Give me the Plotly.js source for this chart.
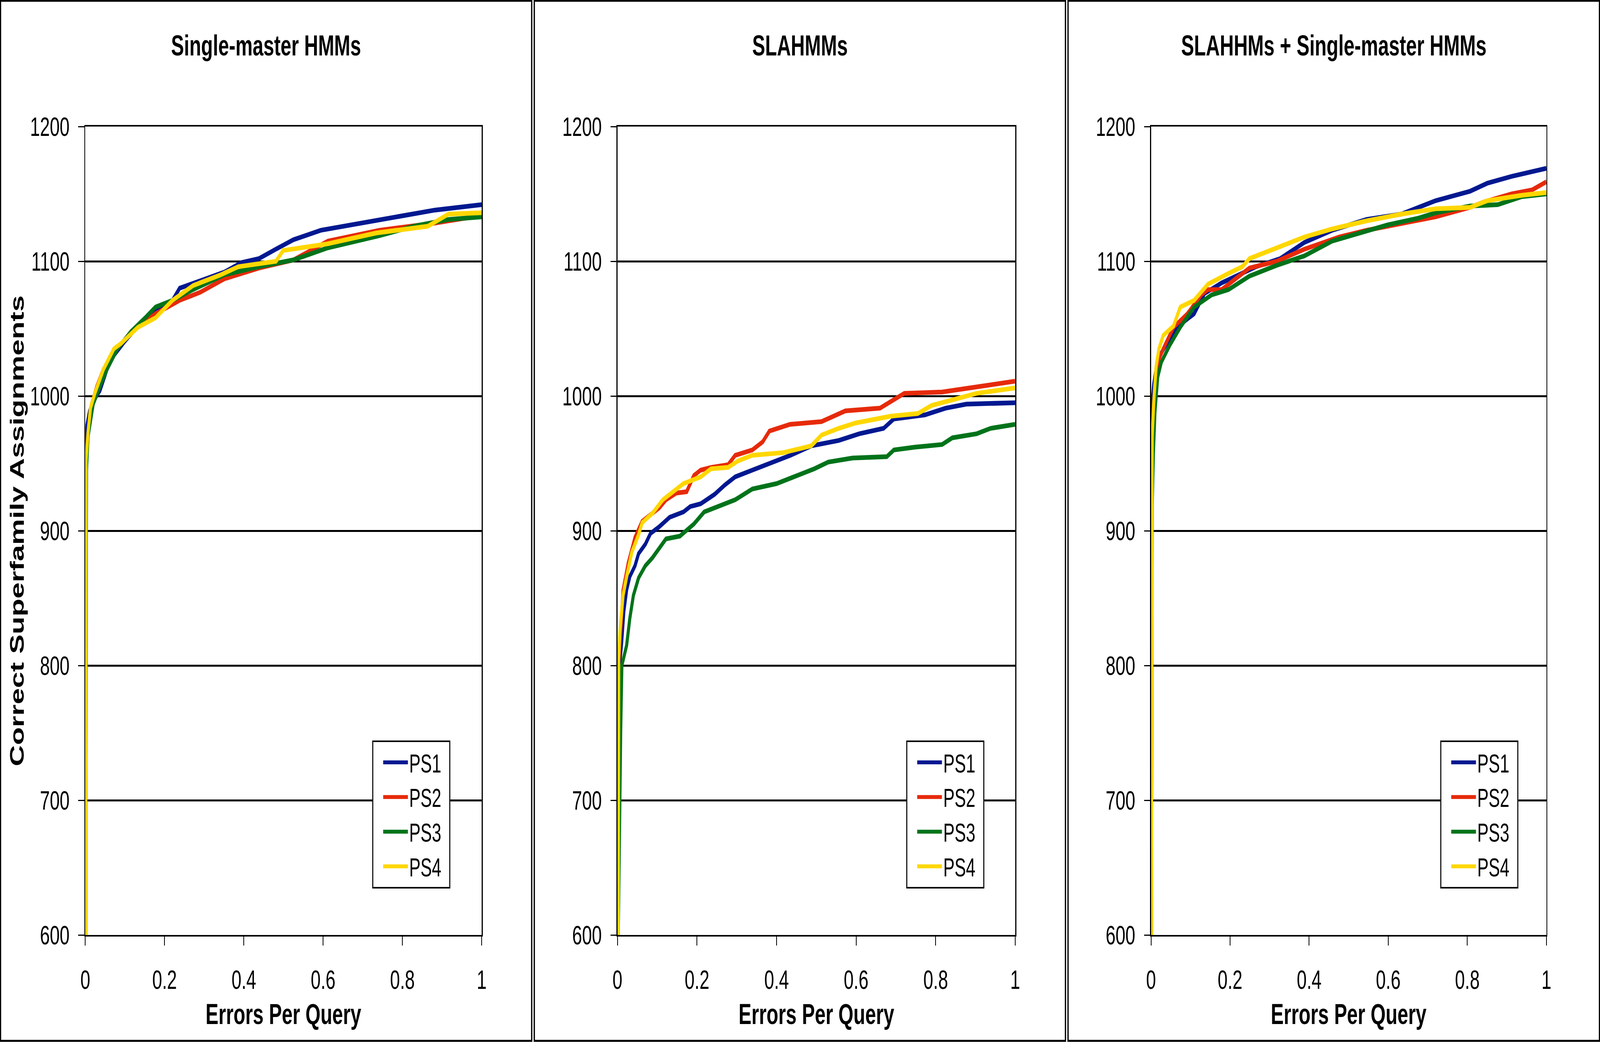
<!DOCTYPE html>
<html>
<head>
<meta charset="utf-8">
<script src="https://cdn.plot.ly/plotly-3.0.1.min.js"></script>
<style>
  html, body { margin: 0; padding: 0; background: #fff; overflow: hidden; }
  #plot { width: 6211px; height: 2668px; transform-origin: 0 0; }
</style>
</head>
<body>
<div id="plot"></div>
<script>
const panelTitles = ["Single-master HMMs", "SLAHMMs", "SLAHHMs + Single-master HMMs"];
const seriesNames = ["PS1", "PS2", "PS3", "PS4"];
const xTicks = [0, 0.2, 0.4, 0.6, 0.8, 1];
const yTicks = [600, 700, 800, 900, 1000, 1100, 1200];

// Single-master HMMs
const single_ps1_x = [0.001, 0.001, 0.004, 0.011, 0.020, 0.037, 0.055, 0.072, 0.098, 0.133, 0.177, 0.220, 0.238, 0.307, 0.351, 0.394, 0.438, 0.481, 0.525, 0.594, 0.655, 0.742, 0.882, 1.0];
const single_ps1_y = [600, 963, 978, 989, 996, 1004, 1020, 1030, 1040, 1052, 1064, 1071, 1080, 1087, 1092, 1099, 1102, 1109, 1116, 1123, 1126, 1131, 1138, 1142];
const single_ps2_x = [0.001, 0.003, 0.007, 0.016, 0.029, 0.046, 0.064, 0.081, 0.116, 0.177, 0.238, 0.290, 0.351, 0.438, 0.525, 0.551, 0.612, 0.742, 0.873, 1.0];
const single_ps2_y = [600, 952, 970, 994, 1007, 1020, 1027, 1035, 1048, 1061, 1071, 1077, 1087, 1095, 1101, 1105, 1115, 1123, 1128, 1134];
const single_ps3_x = [0.001, 0.003, 0.007, 0.020, 0.037, 0.055, 0.081, 0.116, 0.151, 0.177, 0.220, 0.272, 0.351, 0.438, 0.525, 0.612, 0.742, 0.829, 0.916, 1.0];
const single_ps3_y = [600, 945, 970, 994, 1007, 1020, 1035, 1048, 1058, 1066, 1071, 1079, 1090, 1096, 1101, 1110, 1119, 1126, 1131, 1133];
const single_ps4_x = [0.001, 0.002, 0.007, 0.013, 0.024, 0.046, 0.072, 0.090, 0.133, 0.177, 0.220, 0.272, 0.342, 0.386, 0.481, 0.499, 0.612, 0.734, 0.864, 0.916, 1.0];
const single_ps4_y = [600, 952, 973, 991, 1002, 1020, 1035, 1039, 1051, 1058, 1071, 1082, 1090, 1096, 1100, 1108, 1113, 1121, 1126, 1135, 1136];

// SLAHMMs
const sla_ps1_x = [0.002, 0.005, 0.010, 0.016, 0.023, 0.031, 0.044, 0.053, 0.070, 0.083, 0.105, 0.131, 0.166, 0.183, 0.209, 0.244, 0.270, 0.296, 0.339, 0.400, 0.435, 0.487, 0.556, 0.608, 0.669, 0.695, 0.773, 0.825, 0.877, 1.0];
const sla_ps1_y = [600, 800, 815, 840, 856, 866, 874, 883, 890, 898, 903, 910, 914, 918, 920, 927, 934, 940, 945, 952, 956, 963, 967, 972, 976, 983, 986, 991, 994, 995];
const sla_ps2_x = [0.002, 0.003, 0.008, 0.014, 0.027, 0.044, 0.062, 0.079, 0.105, 0.122, 0.148, 0.174, 0.192, 0.209, 0.235, 0.278, 0.296, 0.339, 0.365, 0.382, 0.434, 0.513, 0.573, 0.660, 0.695, 0.721, 0.816, 0.946, 1.0];
const sla_ps2_y = [600, 801, 825, 856, 876, 895, 907, 911, 917, 923, 928, 929, 941, 945, 947, 949, 956, 960, 966, 974, 979, 981, 989, 991, 997, 1002, 1003, 1009, 1011];
const sla_ps3_x = [0.002, 0.005, 0.008, 0.011, 0.023, 0.031, 0.040, 0.053, 0.070, 0.088, 0.109, 0.122, 0.157, 0.174, 0.192, 0.218, 0.261, 0.296, 0.339, 0.400, 0.452, 0.495, 0.530, 0.591, 0.677, 0.695, 0.747, 0.816, 0.842, 0.903, 0.938, 1.0];
const sla_ps3_y = [600, 700, 750, 800, 815, 835, 852, 865, 874, 880, 888, 894, 896, 900, 905, 914, 919, 923, 931, 935, 941, 946, 951, 954, 955, 960, 962, 964, 969, 972, 976, 979];
const sla_ps4_x = [0.002, 0.003, 0.006, 0.014, 0.023, 0.036, 0.053, 0.062, 0.088, 0.114, 0.140, 0.166, 0.209, 0.235, 0.278, 0.304, 0.339, 0.417, 0.487, 0.513, 0.556, 0.599, 0.686, 0.755, 0.790, 0.842, 0.903, 1.0];
const sla_ps4_y = [600, 805, 825, 852, 866, 884, 897, 906, 913, 923, 929, 935, 940, 946, 947, 952, 956, 958, 963, 971, 976, 980, 985, 987, 993, 997, 1002, 1006];

// SLAHHMs + Single-master HMMs
const comb_ps1_x = [0.001, 0.002, 0.003, 0.007, 0.013, 0.022, 0.039, 0.065, 0.109, 0.135, 0.179, 0.214, 0.266, 0.327, 0.388, 0.458, 0.545, 0.633, 0.676, 0.720, 0.807, 0.851, 0.912, 0.964, 1.0];
const comb_ps1_y = [600, 970, 996, 1009, 1020, 1030, 1038, 1051, 1061, 1076, 1084, 1089, 1096, 1102, 1114, 1123, 1131, 1135, 1140, 1145, 1152, 1158, 1163, 1167, 1169];
const comb_ps2_x = [0.001, 0.003, 0.006, 0.010, 0.017, 0.031, 0.057, 0.092, 0.127, 0.144, 0.179, 0.249, 0.318, 0.388, 0.476, 0.545, 0.633, 0.720, 0.807, 0.842, 0.912, 0.964, 1.0];
const comb_ps2_y = [600, 957, 991, 1009, 1025, 1035, 1051, 1061, 1075, 1079, 1079, 1095, 1100, 1109, 1118, 1123, 1128, 1133, 1140, 1144, 1150, 1153, 1159];
const comb_ps3_x = [0.001, 0.003, 0.006, 0.010, 0.017, 0.026, 0.048, 0.074, 0.109, 0.153, 0.196, 0.249, 0.318, 0.388, 0.458, 0.545, 0.598, 0.676, 0.720, 0.807, 0.877, 0.938, 1.0];
const comb_ps3_y = [600, 918, 957, 988, 1014, 1025, 1038, 1051, 1066, 1075, 1079, 1089, 1097, 1104, 1115, 1122, 1127, 1132, 1136, 1141, 1142, 1148, 1150];
const comb_ps4_x = [0.001, 0.003, 0.007, 0.013, 0.020, 0.031, 0.057, 0.074, 0.109, 0.144, 0.196, 0.231, 0.249, 0.327, 0.388, 0.458, 0.545, 0.633, 0.720, 0.807, 0.851, 0.938, 1.0];
const comb_ps4_y = [600, 970, 996, 1022, 1035, 1045, 1052, 1066, 1071, 1083, 1091, 1096, 1102, 1111, 1118, 1124, 1130, 1135, 1139, 1140, 1145, 1149, 1151];

const panelX = [
  [single_ps1_x, single_ps2_x, single_ps3_x, single_ps4_x],
  [sla_ps1_x, sla_ps2_x, sla_ps3_x, sla_ps4_x],
  [comb_ps1_x, comb_ps2_x, comb_ps3_x, comb_ps4_x],
];
const panelY = [
  [single_ps1_y, single_ps2_y, single_ps3_y, single_ps4_y],
  [sla_ps1_y, sla_ps2_y, sla_ps3_y, sla_ps4_y],
  [comb_ps1_y, comb_ps2_y, comb_ps3_y, comb_ps4_y],
];

// laid out in the reference's own 6211 x 2668 pixels; the window may be
// narrower (browser caps width), so the whole figure is fitted to it below
const W = 6211, H = 2668;
const FONT = "Liberation Sans, Arial, Helvetica, sans-serif";
const colors = ["#001890", "#E62A0A", "#00731A", "#FFD700"];

const plotLeft = [331, 2397, 4468];
const plotRight = [1870, 3941, 6003];
const plotTop = 324, plotBottom = 2394;
const boxLeft = [2, 2074, 4146];
const boxRight = [2064, 4136, 6209];
const legendLeft = [1447, 3520, 5593];
const legendWidth = 299;
const legendTop = 1898, legendBottom = 2273;

const px = (v) => v / W;
const py = (v) => 1 - v / H;

const traces = [];
panelX.forEach((xs, p) => {
  xs.forEach((x, s) => {
    traces.push({
      x: x,
      y: panelY[p][s],
      type: "scatter",
      mode: "lines",
      name: seriesNames[s],
      xaxis: p ? "x" + (p + 1) : "x",
      yaxis: p ? "y" + (p + 1) : "y",
      legend: p ? "legend" + (p + 1) : "legend",
      line: { color: colors[s], width: 12 },
      hoverinfo: "skip",
    });
  });
});

const layout = {
  width: W,
  height: H,
  margin: { l: 0, r: 0, t: 0, b: 0 },
  paper_bgcolor: "white",
  plot_bgcolor: "white",
  font: { family: FONT, color: "black" },
  shapes: [],
  annotations: [],
};

for (let p = 0; p < 3; p++) {
  const sfx = p ? String(p + 1) : "";
  layout["xaxis" + sfx] = {
    domain: [px(plotLeft[p]), px(plotRight[p])],
    anchor: "y" + sfx,
    range: [0, 1],
    tickvals: xTicks,
    showgrid: false,
    zeroline: false,
    showline: true,
    mirror: true,
    linecolor: "black",
    linewidth: 4,
    ticks: "outside",
    ticklen: 23,
    tickwidth: 3,
    tickcolor: "black",
    ticklabelstandoff: 28,
    tickfont: { family: FONT, size: 69, color: "black" },
  };
  layout["yaxis" + sfx] = {
    domain: [py(plotBottom), py(plotTop)],
    anchor: "x" + sfx,
    range: [600, 1200],
    tickvals: yTicks,
    showgrid: true,
    gridcolor: "black",
    gridwidth: 5,
    zeroline: false,
    showline: true,
    mirror: true,
    linecolor: "black",
    linewidth: 4,
    ticks: "outside",
    ticklen: 23,
    tickwidth: 3,
    tickcolor: "black",
    ticklabelstandoff: 20,
    tickfont: { family: FONT, size: 69, color: "black" },
  };
  // legend frame (wider padding than plotly's own box)
  layout.shapes.push({
    type: "rect",
    xref: "paper",
    yref: "paper",
    x0: px(legendLeft[p]),
    x1: px(legendLeft[p] + legendWidth),
    y0: py(legendBottom),
    y1: py(legendTop),
    fillcolor: "white",
    line: { color: "black", width: 4 },
    layer: "above",
  });
  layout[p ? "legend" + (p + 1) : "legend"] = {
    x: px(legendLeft[p] + legendWidth / 2 + 4),
    y: py((legendTop + legendBottom) / 2),
    xanchor: "center",
    yanchor: "middle",
    bgcolor: "rgba(0,0,0,0)",
    borderwidth: 0,
    itemwidth: 96,
    font: { family: FONT, size: 66, color: "black" },
  };
  layout.shapes.push({
    type: "rect",
    xref: "paper",
    yref: "paper",
    x0: px(boxLeft[p]),
    x1: px(boxRight[p]),
    y0: py(2665),
    y1: py(2),
    line: { color: "black", width: 5 },
    layer: "below",
  });
  layout.annotations.push({
    text: "<b>" + panelTitles[p] + "</b>",
    xref: "paper",
    yref: "paper",
    x: px((boxLeft[p] + boxRight[p]) / 2),
    y: py(116),
    xanchor: "center",
    yanchor: "middle",
    showarrow: false,
    font: { family: FONT, size: 75, color: "black" },
  });
  layout.annotations.push({
    text: "<b>Errors Per Query</b>",
    xref: "paper",
    yref: "paper",
    x: px((plotLeft[p] + plotRight[p]) / 2),
    y: py(2596),
    xanchor: "center",
    yanchor: "middle",
    showarrow: false,
    font: { family: FONT, size: 75, color: "black" },
  });
}

layout.annotations.push({
  text: "<b>Correct Superfamily Assignments</b>",
  xref: "paper",
  yref: "paper",
  x: px(66),
  y: py((plotTop + plotBottom) / 2),
  xanchor: "center",
  yanchor: "middle",
  textangle: -90,
  showarrow: false,
  font: { family: FONT, size: 75, color: "black" },
});

// fit the full figure to the real window
const plotDiv = document.getElementById("plot");
const sx = (window.innerWidth || W) / W;
const sy = (window.innerHeight || H) / H;
plotDiv.style.transform = "scale(" + sx + "," + sy + ")";

Plotly.newPlot(plotDiv, traces, layout, { staticPlot: true, displayModeBar: false });
</script>
</body>
</html>
